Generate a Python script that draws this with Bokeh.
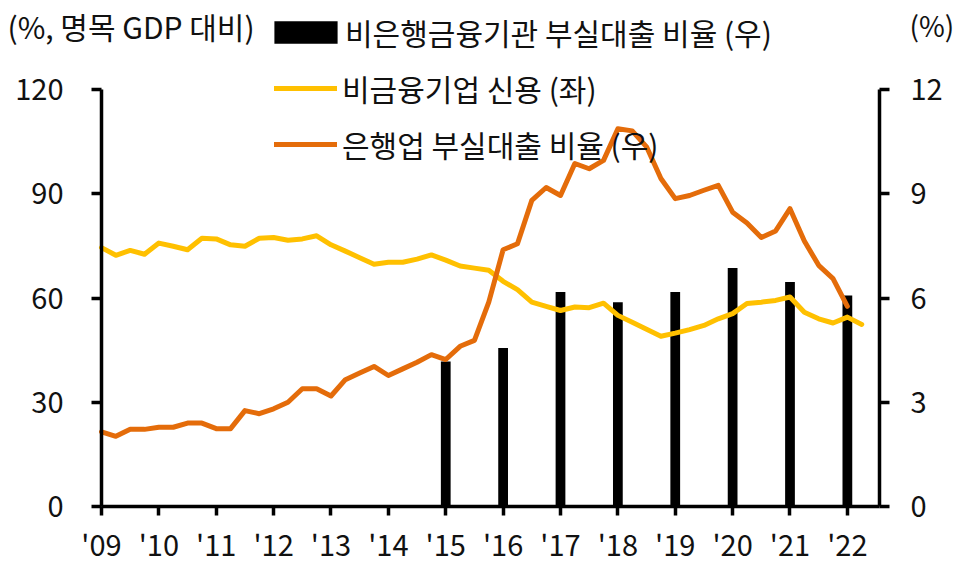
from bokeh.plotting import figure
from bokeh.models import Range1d, LinearAxis, FixedTicker, Legend, LegendItem, Label
from bokeh.embed import file_html
from bokeh.resources import INLINE

FONT = "Noto Sans CJK KR"

# ---- data ----
years = list(range(2009, 2023))
year_labels = ["'09", "'10", "'11", "'12", "'13", "'14", "'15",
               "'16", "'17", "'18", "'19", "'20", "'21", "'22"]

# 비금융기업 신용 (좌), % of nominal GDP, quarterly 2009Q1..2022Q2
nonfin_credit = [74.5, 72.3, 73.7, 72.6, 75.8, 74.9, 73.9, 77.2, 77.0, 75.3,
                 74.9, 77.2, 77.4, 76.6, 77.0, 77.9, 75.3, 73.5, 71.6, 69.7,
                 70.3, 70.3, 71.2, 72.4, 70.9, 69.2, 68.6, 68.0, 64.8, 62.4,
                 58.8, 57.6, 56.4, 57.4, 57.2, 58.5, 55.0, 53.0, 51.0, 49.0,
                 49.9, 50.9, 52.1, 54.0, 55.5, 58.4, 58.8, 59.3, 60.3, 55.9,
                 54.0, 52.8, 54.5, 52.4]

# 은행업 부실대출 비율 (우), %, quarterly 2009Q1..2022Q1
bank_npl = [2.15, 2.02, 2.22, 2.22, 2.28, 2.28, 2.40, 2.40, 2.24, 2.24,
            2.76, 2.67, 2.81, 3.00, 3.39, 3.39, 3.18, 3.65, 3.84, 4.03,
            3.77, 3.96, 4.15, 4.37, 4.23, 4.61, 4.78, 5.88, 7.39, 7.56,
            8.81, 9.18, 8.95, 9.87, 9.72, 9.96, 10.87, 10.81, 10.35, 9.44,
            8.86, 8.95, 9.10, 9.24, 8.47, 8.16, 7.74, 7.93, 8.57, 7.64,
            6.94, 6.56, 5.76]

# 비은행금융기관 부실대출 비율 (우), %, annual
nbfi_years = [2015, 2016, 2017, 2018, 2019, 2020, 2021, 2022]
nbfi_npl = [4.17, 4.56, 6.17, 5.88, 6.17, 6.86, 6.46, 6.07]

left_ticks = [0, 30, 60, 90, 120]
right_ticks = [0, 3, 6, 9, 12]

credit_x = [2009 + i / 4 for i in range(len(nonfin_credit))]
npl_x = [2009 + i / 4 for i in range(len(bank_npl))]

YELLOW = "#FFC000"
ORANGE = "#E46C0A"

# ---- layout geometry (pixels on the canvas) ----
W, H = 955, 562
AX_L, AX_R = 101, 879      # left / right axis lines
AX_B, AX_T = 506, 89       # y=0 line / top tick
X0, X1 = 2009.0, 2022.56   # x data at the two axis lines
YMAX_L, YMAX_R = 120, 12

xs = (X1 - X0) / (AX_R - AX_L)
ys = YMAX_L / (AX_B - AX_T)
x_rng = Range1d(X0 - AX_L * xs, X1 + (W - AX_R) * xs)
y_rng = Range1d(-(H - AX_B) * ys, YMAX_L + AX_T * ys)
r_rng = Range1d(y_rng.start / 10, y_rng.end / 10)

p = figure(width=W, height=H, output_backend="svg", toolbar_location=None,
           x_range=x_rng, y_range=y_rng, x_axis_location=None, y_axis_location=None,
           min_border=0)
p.title.visible = False
p.extra_y_ranges = {"right": r_rng}
p.outline_line_color = None
p.grid.visible = False
p.background_fill_color = "white"
p.border_fill_color = "white"


def style_axis(ax, tick_out, standoff):
    ax.axis_line_width = 3.5
    ax.axis_line_color = "black"
    ax.major_tick_line_width = 3.5
    ax.major_tick_line_color = "black"
    ax.major_tick_in = 0
    ax.major_tick_out = tick_out
    ax.minor_tick_line_color = None
    ax.major_label_text_font = FONT
    ax.major_label_text_font_size = "29px"
    ax.major_label_text_color = "#111111"
    ax.major_label_standoff = standoff


left_axis = LinearAxis(fixed_location=X0, bounds=(0, YMAX_L),
                       ticker=FixedTicker(ticks=left_ticks))
style_axis(left_axis, 10, 28)
p.add_layout(left_axis, "left")

right_axis = LinearAxis(y_range_name="right", fixed_location=X1, bounds=(0, YMAX_R),
                        ticker=FixedTicker(ticks=right_ticks))
style_axis(right_axis, 10, 21)
p.add_layout(right_axis, "right")

xax = LinearAxis(fixed_location=0, bounds=(X0, X1), ticker=FixedTicker(ticks=years),
                 major_label_overrides={y: l for y, l in zip(years, year_labels)})
style_axis(xax, 9, 6)
p.add_layout(xax, "below")

bars = p.vbar(x=nbfi_years, top=nbfi_npl, width=0.17, y_range_name="right",
              fill_color="black", line_color=None)
l_credit = p.line(credit_x, nonfin_credit, line_color=YELLOW, line_width=5,
                  line_join="round", line_cap="round")
l_npl = p.line(npl_x, bank_npl, y_range_name="right", line_color=ORANGE,
               line_width=5, line_join="round", line_cap="round")


def one_legend(label, rend, loc, gw, gh, standoff):
    return Legend(items=[LegendItem(label=label, renderers=[rend])],
                  location=loc, glyph_width=gw, glyph_height=gh,
                  label_height=gh, label_standoff=standoff, padding=0, margin=0,
                  border_line_color=None, background_fill_alpha=0,
                  label_text_font=FONT, label_text_font_size="30px",
                  label_text_color="#111111")


p.add_layout(one_legend("비은행금융기관 부실대출 비율 (우)", bars, (266, H - 54), 79, 28, -3))
p.add_layout(one_legend("비금융기업 신용 (좌)", l_credit, (274, H - 110), 63, 28, 5))
p.add_layout(one_legend("은행업 부실대출 비율 (우)", l_npl, (274, H - 166), 63, 28, 5))

p.add_layout(Label(x=7, y=H - 25, x_units="screen", y_units="screen",
                   text="(%, 명목 GDP 대비)", text_font=FONT, text_font_size="30px",
                   text_baseline="middle", text_align="left", text_color="#111111"))
p.add_layout(Label(x=909, y=H - 24, x_units="screen", y_units="screen",
                   text="(%)", text_font=FONT, text_font_size="28px",
                   text_baseline="middle", text_align="left", text_color="#111111"))

open("out.html", "w").write(file_html(p, INLINE))
